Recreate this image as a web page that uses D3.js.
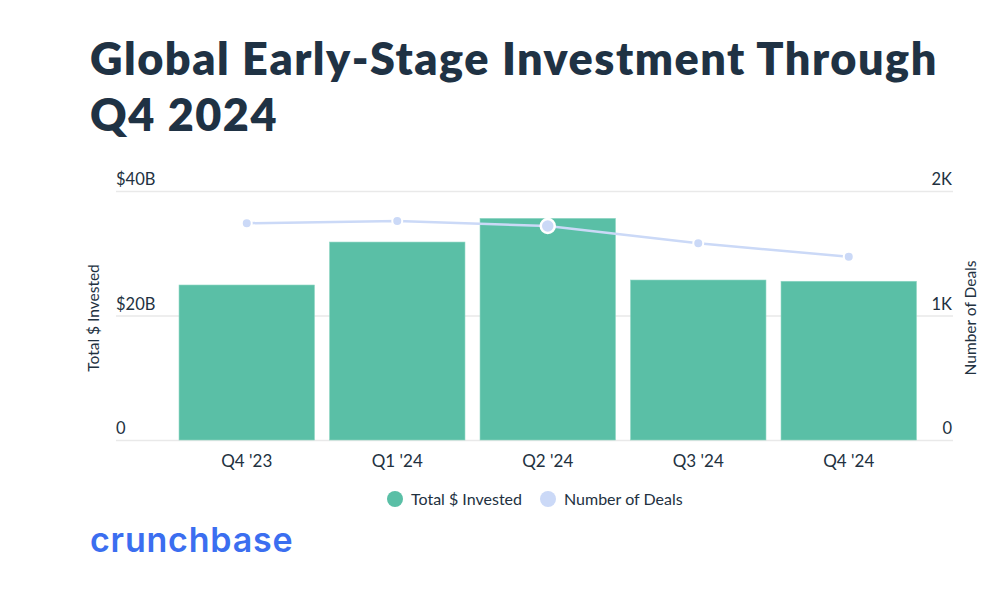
<!DOCTYPE html>
<html lang="en">
    <head>
        <meta charset="utf-8">
        <title>Global Early-Stage Investment</title>
        <script type="text/javascript" src="https://cdn.jsdelivr.net/npm/d3@7"></script>
        <style>
            body { margin: 0; background: #fff; }
            text { font-family: Lato, "Open Sans", sans-serif; fill: #22313f; }
        </style>
    </head>
    <body>
        <script type="text/javascript">

            //Data
            var quarters = ["Q4 '23", "Q1 '24", "Q2 '24", "Q3 '24", "Q4 '24"];
            var invested = [24.9, 31.8, 35.6, 25.7, 25.5];      // $B
            var deals = [1741, 1759, 1719, 1580, 1472];
            var leftTicks = [0, 20, 40];
            var leftTickLabels = ["0", "$20B", "$40B"];
            var rightTicks = [0, 1000, 2000];
            var rightTickLabels = ["0", "1K", "2K"];

            var w = 1000;
            var h = 606;
            var gridLeft = 116, gridRight = 953;

            var svg = d3.select("body")
                    .append("svg")
                    .attr("width", w)
                    .attr("height", h);

            //Title
            var title = svg.append("text")
                    .attr("x", 90)
                    .attr("y", 75)
                    .attr("font-size", "45px")
                    .attr("font-weight", 800)
                    .attr("letter-spacing", "1.5px")
                    .style("fill", "#1f3244");
            title.append("tspan").attr("x", 90).attr("y", 75).text("Global Early-Stage Investment Through");
            title.append("tspan").attr("x", 90).attr("y", 131).text("Q4 2024");

            //Scales
            var xScale = d3.scaleBand()
                    .domain(quarters)
                    .range([171.5, 924])
                    .paddingInner(0.1)
                    .paddingOuter(0.05);

            var yLeft = d3.scaleLinear().domain([0, 40]).range([440, 191]);
            var yRight = d3.scaleLinear().domain([0, 2000]).range([440, 191]);

            //Grid lines
            svg.selectAll("line.grid")
                    .data(leftTicks)
                    .enter()
                    .append("line")
                    .attr("class", "grid")
                    .attr("x1", gridLeft)
                    .attr("x2", gridRight)
                    .attr("y1", function (d) { return yLeft(d) + 0.5; })
                    .attr("y2", function (d) { return yLeft(d) + 0.5; })
                    .attr("stroke", "#e9e9e9")
                    .attr("stroke-width", 1.5);

            //Left tick labels
            svg.selectAll("text.lt")
                    .data(leftTicks)
                    .enter()
                    .append("text")
                    .attr("class", "lt")
                    .attr("x", gridLeft)
                    .attr("y", function (d) { return yLeft(d) - 6; })
                    .attr("font-size", "16.5px")
                    .text(function (d, i) { return leftTickLabels[i]; });

            //Right tick labels
            svg.selectAll("text.rt")
                    .data(rightTicks)
                    .enter()
                    .append("text")
                    .attr("class", "rt")
                    .attr("x", gridRight - 1)
                    .attr("y", function (d) { return yRight(d) - 6; })
                    .attr("text-anchor", "end")
                    .attr("font-size", "16.5px")
                    .text(function (d, i) { return rightTickLabels[i]; });

            //Axis titles
            svg.append("text")
                    .attr("transform", "translate(99,318) rotate(-90)")
                    .attr("text-anchor", "middle")
                    .attr("font-size", "15.5px")
                    .text("Total $ Invested");

            svg.append("text")
                    .attr("transform", "translate(976,318) rotate(-90)")
                    .attr("text-anchor", "middle")
                    .attr("font-size", "15.5px")
                    .text("Number of Deals");

            //Bars
            svg.selectAll("rect.bar")
                    .data(invested)
                    .enter()
                    .append("rect")
                    .attr("class", "bar")
                    .attr("x", function (d, i) { return xScale(quarters[i]); })
                    .attr("y", function (d) { return yLeft(d); })
                    .attr("width", xScale.bandwidth())
                    .attr("height", function (d) { return yLeft(0) - yLeft(d); })
                    .attr("fill", "#5abfa6")
                    .attr("stroke", "#8fd6c4")
                    .attr("stroke-width", 0.6);

            //X labels
            svg.selectAll("text.xl")
                    .data(quarters)
                    .enter()
                    .append("text")
                    .attr("class", "xl")
                    .attr("x", function (d) { return xScale(d) + xScale.bandwidth() / 2; })
                    .attr("y", 467)
                    .attr("text-anchor", "middle")
                    .attr("font-size", "17px")
                    .text(function (d) { return d; });

            //Deals line
            var line = d3.line()
                    .x(function (d, i) { return xScale(quarters[i]) + xScale.bandwidth() / 2; })
                    .y(function (d) { return yRight(d); });

            svg.append("path")
                    .datum(deals)
                    .attr("d", line)
                    .attr("fill", "none")
                    .attr("stroke", "#cbd9f7")
                    .attr("stroke-width", 2.5);

            svg.selectAll("circle.pt")
                    .data(deals)
                    .enter()
                    .append("circle")
                    .attr("class", "pt")
                    .attr("cx", function (d, i) { return xScale(quarters[i]) + xScale.bandwidth() / 2; })
                    .attr("cy", function (d) { return yRight(d); })
                    .attr("r", function (d, i) { return i === 2 ? 7 : 5; })
                    .attr("fill", "#cbd9f7")
                    .attr("stroke", "#fff")
                    .attr("stroke-width", function (d, i) { return i === 2 ? 2.5 : 2; });

            //Legend
            var legend = [
                {label: "Total $ Invested", color: "#5abfa6", x: 395},
                {label: "Number of Deals", color: "#cbd9f7", x: 548}
            ];
            var lg = svg.selectAll("g.legend")
                    .data(legend)
                    .enter()
                    .append("g")
                    .attr("class", "legend")
                    .attr("transform", function (d) { return "translate(" + d.x + ",499)"; });
            lg.append("circle")
                    .attr("r", 8)
                    .attr("fill", function (d) { return d.color; });
            lg.append("text")
                    .attr("x", 16)
                    .attr("y", 5.5)
                    .attr("font-size", "16px")
                    .text(function (d) { return d.label; });

            //Logo
            svg.append("text")
                    .attr("x", 90)
                    .attr("y", 552)
                    .attr("font-size", "34px")
                    .attr("font-weight", 600)
                    .attr("letter-spacing", "0.8px")
                    .style("font-family", "Inter, sans-serif")
                    .style("fill", "#3b6ef0")
                    .text("crunchbase");

        </script>
    </body>
</html>
